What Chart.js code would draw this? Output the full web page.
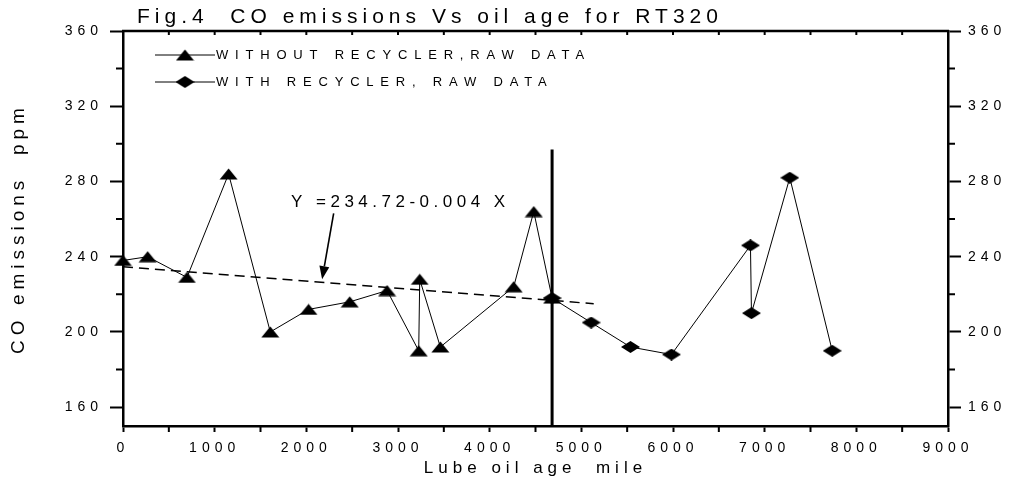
<!DOCTYPE html>
<html><head><meta charset="utf-8">
<script src="https://cdn.jsdelivr.net/npm/chart.js@4.4.1/dist/chart.umd.min.js"></script>
<style>html,body{margin:0;padding:0;background:#fff;overflow:hidden}#wrap{width:1010px;height:487px;position:relative}canvas{display:block}</style>
</head><body><div id="wrap"><canvas id="c" width="1010" height="487"></canvas></div>
<script>
// ---- data ----
const chartTitle = 'Fig.4  CO emissions Vs oil age for RT320';
const xTitle = 'Lube oil age  mile';
const yTitle = 'CO emissions  ppm';
const seriesNames = ['WITHOUT RECYCLER,RAW DATA', 'WITH RECYCLER, RAW DATA'];

const withoutMiles = [0, 269, 698, 1152, 1607, 2025, 2473, 2881, 3226, 3237, 3462, 4262, 4481, 4681];
const withoutPpm   = [238, 240, 229, 284, 200, 212, 216, 222, 190, 228, 192, 224, 264, 218];
const withMiles = [4681, 5107, 5536, 5983, 6845, 6856, 7274, 7737];
const withPpm   = [218, 205, 192, 188, 246, 210, 282, 190];

const fitMiles = [0, 5135];
const fitPpm   = [234.7, 215];
const fitLabel = 'Y =234.72-0.004 X';
const fitLabelAt = [1832, 269];
const arrowFrom = [2298, 263];
const arrowTo   = [2172, 228];

const dividerMiles = [4681, 4681];
const dividerPpm   = [150, 297];

const xTickValues  = [0, 1000, 2000, 3000, 4000, 5000, 6000, 7000, 8000, 9000];
const xMinorValues = [500, 1500, 2500, 3500, 4500, 5500, 6500, 7500, 8500];
const yTickValues  = [160, 200, 240, 280, 320, 360];
const yMinorValues = [180, 220, 260, 300, 340];

// ---- markers ----
function makeMarker(kind) {
  const c = document.createElement('canvas');
  c.width = 19; c.height = 12;
  const g = c.getContext('2d');
  g.fillStyle = '#000';
  g.beginPath();
  if (kind === 'tri') { g.moveTo(9.5, 0.5); g.lineTo(18.5, 11.5); g.lineTo(0.5, 11.5); }
  else { g.moveTo(9.5, 0); g.lineTo(19, 6); g.lineTo(9.5, 12); g.lineTo(0, 6); }
  g.closePath(); g.fill();
  return c;
}
const triMarker = makeMarker('tri');
const diaMarker = makeMarker('dia');

const FONT = '"Liberation Sans", Arial, sans-serif';
const zip = (xs, ys) => xs.map((x, i) => ({x: x, y: ys[i]}));

const spacing = {
  id: 'spacing',
  beforeLayout(chart) { chart.ctx.letterSpacing = '5px'; },
  beforeDraw(chart) {
    const c = chart.ctx;
    c.save(); c.fillStyle = '#fff'; c.fillRect(0, 0, chart.width, chart.height); c.restore();
    c.letterSpacing = '5px';
  }
};

const decor = {
  id: 'decor',
  afterDraw(chart) {
    const c = chart.ctx, a = chart.chartArea;
    const xs = chart.scales.x, ys = chart.scales.y;
    c.save();
    c.strokeStyle = '#000'; c.fillStyle = '#000';
    // top frame
    c.lineWidth = 2.5;
    c.beginPath(); c.moveTo(a.left - 1, a.top); c.lineTo(a.right + 1, a.top); c.stroke();
    // minor / inner ticks
    c.lineWidth = 2;
    c.beginPath();
    yMinorValues.forEach(v => {
      const p = ys.getPixelForValue(v);
      c.moveTo(a.left - 7, p); c.lineTo(a.left, p);
      c.moveTo(a.right, p); c.lineTo(a.right + 7, p);
    });
    xMinorValues.forEach(v => {
      const p = xs.getPixelForValue(v);
      c.moveTo(p, a.bottom); c.lineTo(p, a.bottom + 6);
    });
    xTickValues.concat(xMinorValues).forEach(v => {
      const p = xs.getPixelForValue(v);
      c.moveTo(p, a.top); c.lineTo(p, a.top + 4);
    });
    c.stroke();

    // title
    c.letterSpacing = '5px';
    c.font = '21px ' + FONT;
    c.textAlign = 'left'; c.textBaseline = 'alphabetic';
    c.fillText(chartTitle, 137, 23);

    // legend
    c.letterSpacing = '6.8px';
    c.font = '13px ' + FONT;
    c.textBaseline = 'middle';
    const rows = [[55, triMarker], [82, diaMarker]];
    rows.forEach((r, i) => {
      const y = r[0];
      c.lineWidth = 1;
      c.beginPath(); c.moveTo(155, y); c.lineTo(215, y); c.stroke();
      c.drawImage(r[1], 185 - r[1].width / 2, y - r[1].height / 2);
      c.fillText(seriesNames[i], 216, y + 0.5);
    });

    // fit annotation
    c.letterSpacing = '4.5px';
    c.font = '17px ' + FONT;
    c.fillText(fitLabel, xs.getPixelForValue(fitLabelAt[0]), ys.getPixelForValue(fitLabelAt[1]));
    const x0 = xs.getPixelForValue(arrowFrom[0]), y0 = ys.getPixelForValue(arrowFrom[1]);
    const x1 = xs.getPixelForValue(arrowTo[0]), y1 = ys.getPixelForValue(arrowTo[1]);
    const ang = Math.atan2(y1 - y0, x1 - x0);
    const hl = 13, hw = 5;
    const bx = x1 - hl * Math.cos(ang), by = y1 - hl * Math.sin(ang);
    c.lineWidth = 1.6;
    c.beginPath(); c.moveTo(x0, y0); c.lineTo(bx, by); c.stroke();
    c.beginPath();
    c.moveTo(x1, y1);
    c.lineTo(bx + hw * Math.sin(ang), by - hw * Math.cos(ang));
    c.lineTo(bx - hw * Math.sin(ang), by + hw * Math.cos(ang));
    c.closePath(); c.fill();
    c.restore();
  }
};

const tickFont = {family: FONT, size: 14};
const plain = v => String(v);

new Chart(document.getElementById('c'), {
  type: 'scatter',
  data: {
    datasets: [
      {label: seriesNames[0], data: zip(withoutMiles, withoutPpm), showLine: true,
       borderColor: '#000', borderWidth: 1, pointStyle: triMarker, pointRadius: 6, clip: false},
      {label: seriesNames[1], data: zip(withMiles, withPpm), showLine: true,
       borderColor: '#000', borderWidth: 1, pointStyle: diaMarker, pointRadius: 6, clip: false},
      {label: 'fit', data: zip(fitMiles, fitPpm), showLine: true, borderColor: '#000',
       borderWidth: 1.5, borderDash: [10, 6], pointRadius: 0, clip: false},
      {label: 'divider', data: zip(dividerMiles, dividerPpm), showLine: true, borderColor: '#000',
       borderWidth: 3, pointRadius: 0, clip: false}
    ]
  },
  options: {
    responsive: false,
    animation: false,
    events: [],
    layout: {padding: {top: 31, left: 0, right: 0, bottom: 0}},
    plugins: {legend: {display: false}, tooltip: {enabled: false}, title: {display: false}},
    scales: {
      x: {
        type: 'linear', position: 'bottom', min: 0, max: 9000,
        afterBuildTicks: s => { s.ticks = xTickValues.map(v => ({value: v})); },
        afterFit: s => { s.height = 61; },
        ticks: {color: '#000', font: tickFont, padding: 8, autoSkip: false, maxRotation: 0, callback: plain},
        grid: {drawOnChartArea: false, drawTicks: true, tickLength: 6, tickColor: '#000', tickWidth: 2},
        border: {display: true, color: '#000', width: 2.5},
        title: {display: true, text: xTitle, color: '#000', font: {family: FONT, size: 17}, padding: {top: 0, bottom: 8}}
      },
      y: {
        type: 'linear', position: 'left', min: 150, max: 360,
        afterBuildTicks: s => { s.ticks = yTickValues.map(v => ({value: v})); },
        afterFit: s => { s.width = 123; },
        ticks: {color: '#000', font: tickFont, padding: 7, autoSkip: false, callback: plain},
        grid: {drawOnChartArea: false, drawTicks: true, tickLength: 13, tickColor: '#000', tickWidth: 2},
        border: {display: true, color: '#000', width: 2.5},
        title: {display: true, text: yTitle, color: '#000', font: {family: FONT, size: 19}, padding: {top: 7, bottom: 0}}
      },
      y2: {
        type: 'linear', position: 'right', min: 150, max: 360,
        afterBuildTicks: s => { s.ticks = yTickValues.map(v => ({value: v})); },
        afterFit: s => { s.width = 62; },
        ticks: {color: '#000', font: tickFont, padding: 7, autoSkip: false, callback: plain},
        grid: {drawOnChartArea: false, drawTicks: true, tickLength: 13, tickColor: '#000', tickWidth: 2},
        border: {display: true, color: '#000', width: 2.5}
      }
    }
  },
  plugins: [spacing, decor]
});
</script></body></html>
